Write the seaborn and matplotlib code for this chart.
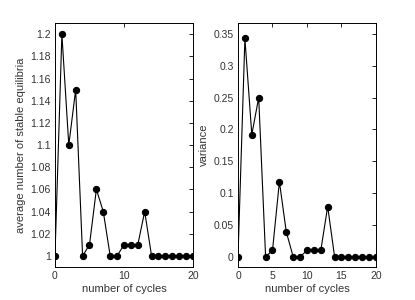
"""Average number of stable equilibria and variance vs number of cycles."""
import matplotlib
matplotlib.use("Agg")
import matplotlib.pyplot as plt
import seaborn as sns
import pandas as pd

sns.set_style("white")
plt.rcParams['font.family'] = ['Liberation Sans', 'DejaVu Sans']

cycles = list(range(21))
avg_equilibria = [1.0, 1.2, 1.1, 1.15, 1.0, 1.01, 1.06, 1.04, 1.0, 1.0, 1.01,
                  1.01, 1.01, 1.04, 1.0, 1.0, 1.0, 1.0, 1.0, 1.0, 1.0]
variance = [0.0, 0.343, 0.192, 0.25, 0.0, 0.01, 0.118, 0.039, 0.0, 0.0, 0.01,
            0.01, 0.01, 0.079, 0.0, 0.0, 0.0, 0.0, 0.0, 0.0, 0.0]

left_yticks = [1, 1.02, 1.04, 1.06, 1.08, 1.1, 1.12, 1.14, 1.16, 1.18, 1.2]
left_yticklabels = ['1', '1.02', '1.04', '1.06', '1.08', '1.1', '1.12', '1.14', '1.16', '1.18', '1.2']
right_yticks = [0, 0.05, 0.1, 0.15, 0.2, 0.25, 0.3, 0.35]
right_yticklabels = ['0', '0.05', '0.1', '0.15', '0.2', '0.25', '0.3', '0.35']

df = pd.DataFrame({'cycles': cycles, 'avg': avg_equilibria, 'var': variance})

fig = plt.figure(figsize=(4.15, 3.0), dpi=100)
ax1 = fig.add_axes([0.1325, 0.11, 0.3325, 0.813])
ax2 = fig.add_axes([0.5735, 0.11, 0.3325, 0.813])

text_color = '#333333'
for ax, col in [(ax1, 'avg'), (ax2, 'var')]:
    sns.lineplot(x='cycles', y=col, data=df, ax=ax, color='black', linewidth=0.8,
                 marker='o', markersize=4.5, markeredgecolor='black')
    ax.set_xlim(0, 20)
    ax.tick_params(direction='in', length=3, width=0.6, top=True, right=True,
                   labelsize=7.5, colors='black', labelcolor=text_color, pad=3)
    for spine in ax.spines.values():
        spine.set_linewidth(0.7)
        spine.set_color('black')
    ax.set_xlabel('number of cycles', fontsize=8, color=text_color, labelpad=2)

ax1.set_ylim(0.99, 1.21)
ax1.set_xticks([0, 10, 20])
ax1.set_yticks(left_yticks)
ax1.set_yticklabels(left_yticklabels)
ax1.set_ylabel('average number of stable equilibria', fontsize=8, color=text_color, labelpad=3)

ax2.set_ylim(-0.016, 0.367)
ax2.set_xticks([0, 5, 10, 15, 20])
ax2.set_yticks(right_yticks)
ax2.set_yticklabels(right_yticklabels)
ax2.set_ylabel('variance', fontsize=8, color=text_color, labelpad=3)

fig.savefig('out.png', dpi=100)
plt.close(fig)
